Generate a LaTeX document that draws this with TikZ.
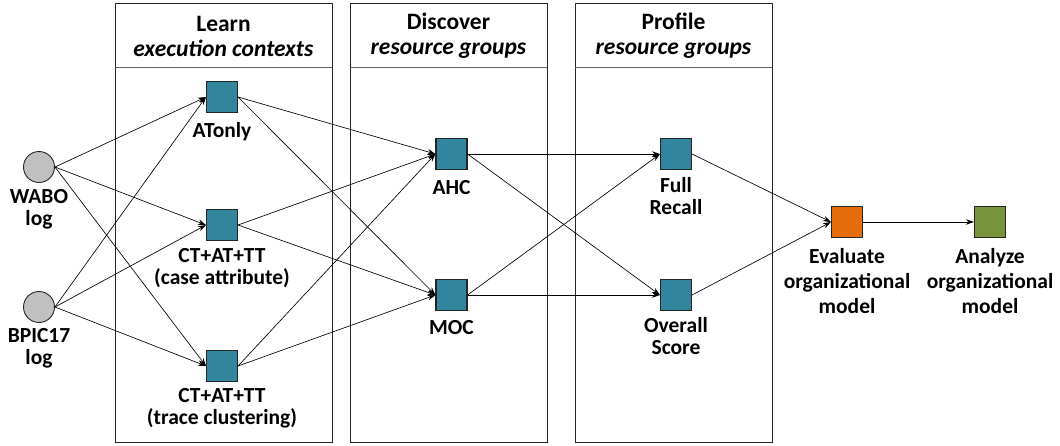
\documentclass[tikz,border=0pt]{standalone}
\usepackage{fontspec}
\setmainfont{Carlito}
\usetikzlibrary{arrows.meta,positioning}
\definecolor{boxteal}{HTML}{31859C}
\definecolor{boxorange}{HTML}{E46C0A}
\definecolor{boxgreen}{HTML}{77933C}
\definecolor{circgray}{HTML}{C0C0C0}
\definecolor{edgedark}{HTML}{262626}
\begin{document}
\begin{tikzpicture}[x=1pt,y=-1pt,
  panel/.style={draw=edgedark,line width=0.9pt,fill=none},
  divider/.style={draw=black!60,line width=0.8pt},
  hdr/.style={font=\fontsize{23.5}{25}\selectfont\bfseries,align=center,inner sep=0pt},
  sq/.style={draw=edgedark,line width=1.1pt,minimum size=31pt,inner sep=0pt,fill=boxteal},
  logc/.style={draw=edgedark,line width=0.9pt,circle,minimum size=31pt,inner sep=0pt,fill=circgray},
  lbl/.style={font=\fontsize{21.5}{22}\selectfont\bfseries,align=center,inner sep=0pt},
  lblw/.style={lbl,font=\fontsize{21.5}{25}\selectfont\bfseries},
  arr/.style={draw=black,line width=0.65pt,-{Stealth[length=8pt,width=5.5pt]}}
]
\useasboundingbox (0,0) rectangle (1060,445);
% panels
\draw[panel] (115,3) rectangle (332,442);
\draw[divider] (115,67) -- (332,67);
\draw[panel] (350,3) rectangle (547,442);
\draw[divider] (350,67) -- (547,67);
\draw[panel] (575,3) rectangle (772,442);
\draw[divider] (575,67) -- (772,67);
\node[hdr] (h1) at (223.5,36) {Learn\\\textit{execution contexts}};
\node[hdr] (h2) at (448.5,36) {Discover\\\textit{resource groups}};
\node[hdr] (h3) at (673.5,36) {Profile\\\textit{resource groups}};
% nodes
\node[logc] (wabo) at (39,167) {};
\node[logc] (bpic) at (39,307) {};
\node[sq] (at) at (222,97) {};
\node[sq] (cc) at (222,225) {};
\node[sq] (tc) at (222,366) {};
\node[sq] (ahc) at (451.5,154) {};
\node[sq] (moc) at (451.5,295) {};
\node[sq] (fr) at (676,154) {};
\node[sq] (os) at (676,295) {};
\node[sq,fill=boxorange] (ev) at (847,222) {};
\node[sq,fill=boxgreen] (an) at (990,222) {};
% labels
\node[lbl] (waboL) at (39,209) {WABO\\log};
\node[lbl] (bpicL) at (39,348) {BPIC17\\log};
\node[lbl] (atL) at (222,132) {ATonly};
\node[lbl] (ccL) at (222,268) {CT+AT+TT\\(case attribute)};
\node[lbl] (tcL) at (222,408) {CT+AT+TT\\(trace clustering)};
\node[lbl] (ahcL) at (451.5,188) {AHC};
\node[lbl] (mocL) at (451.5,328) {MOC};
\node[lbl] (frL) at (676,196) {Full\\Recall};
\node[lbl] (osL) at (676,336) {Overall\\Score};
\node[lblw] (evL) at (847,281) {Evaluate\\organizational\\model};
\node[lblw] (anL) at (990,281) {Analyze\\organizational\\model};
% edges
\foreach \s in {wabo,bpic}{
  \foreach \t in {at,cc,tc}{
    \draw[arr] (\s.east) -- (\t.west);
  }
}
\foreach \s in {at,cc,tc}{
  \foreach \t in {ahc,moc}{
    \draw[arr] (\s.east) -- (\t.west);
  }
}
\foreach \s in {ahc,moc}{
  \foreach \t in {fr,os}{
    \draw[arr] (\s.east) -- (\t.west);
  }
}
\draw[arr] (fr.east) -- (ev.west);
\draw[arr] (os.east) -- (ev.west);
\draw[arr] (ev.east) -- (an.west);
\end{tikzpicture}
\end{document}
